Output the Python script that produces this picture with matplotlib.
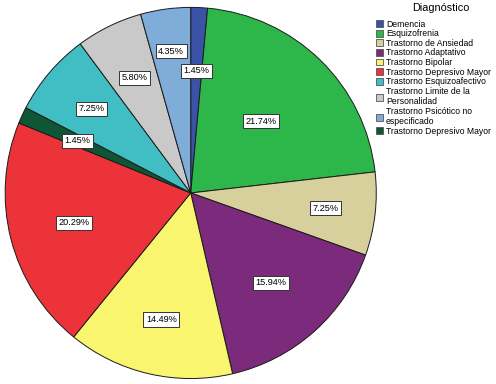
import numpy as np
import matplotlib
matplotlib.use("Agg")
from matplotlib import pyplot as plt
from matplotlib.patches import Patch

plt.rcParams['font.family'] = ['Liberation Sans', 'DejaVu Sans']

# slices, clockwise from 12 o'clock (as drawn)
slice_labels = [
    "Demencia", "Esquizofrenia", "Trastorno de Ansiedad", "Trastorno Adaptativo",
    "Trastorno Bipolar", "Trastorno Depresivo Mayor", "Trastorno Depresivo Mayor (2)",
    "Trastorno Esquizoafectivo", "Trastorno Limite de la\nPersonalidad",
    "Trastorno Psicótico no\nespecificado",
]
slice_pcts = [1.45, 21.74, 7.25, 15.94, 14.49, 20.29, 1.45, 7.25, 5.80, 4.35]
slice_colors = ["#3b53a6", "#2db64a", "#d7cf9c", "#7b2a7c", "#faf56f",
                "#ec333a", "#0f5637", "#40bec4", "#c9c9c9", "#80acd9"]

# legend order (as listed by the chart)
legend_labels = [
    "Demencia", "Esquizofrenia", "Trastorno de Ansiedad", "Trastorno Adaptativo",
    "Trastorno Bipolar", "Trastorno Depresivo Mayor", "Trastorno Esquizoafectivo",
    "Trastorno Limite de la\nPersonalidad", "Trastorno Psicótico no\nespecificado",
    "Trastorno Depresivo Mayor",
]
legend_colors = ["#3b53a6", "#2db64a", "#d7cf9c", "#7b2a7c", "#faf56f",
                 "#ec333a", "#40bec4", "#c9c9c9", "#80acd9", "#0f5637"]

# distance of each percent label from the centre (fraction of radius)
label_r = [0.66, 0.54, 0.73, 0.65, 0.70, 0.65, 0.67, 0.70, 0.69, 0.77]

fig = plt.figure(figsize=(4.96, 3.84), dpi=100)
ax = fig.add_axes([0.0085, 0.01, 0.752, 0.975])

wedges, texts = ax.pie(
    slice_pcts, colors=slice_colors, startangle=90, counterclock=False,
    wedgeprops=dict(edgecolor="#1a1a1a", linewidth=0.7),
)
for w, pct, r in zip(wedges, slice_pcts, label_r):
    ang = np.deg2rad((w.theta1 + w.theta2) / 2)
    ax.text(r * np.cos(ang), r * np.sin(ang), f"{pct:.2f}%",
            ha="center", va="center", fontsize=6.6,
            bbox=dict(boxstyle="square,pad=0.28", fc="white", ec="#333333", lw=0.7))
ax.set_xlim(-1.005, 1.005)
ax.set_ylim(-1.005, 1.005)
ax.set_aspect("equal")
ax.axis("off")

fig.text(441 / 496, 1 - 8 / 384, "Diagnóstico", ha="center", va="center", fontsize=7.8)

handles = [Patch(facecolor=c, edgecolor="#555555", linewidth=0.6) for c in legend_colors]
leg = fig.legend(handles, legend_labels,
                 loc="upper left", bbox_to_anchor=(0.752, 1 - 17 / 384),
                 frameon=False, fontsize=6.25,
                 handlelength=0.85, handleheight=0.85, handletextpad=0.35,
                 labelspacing=0.07, borderaxespad=0.0, borderpad=0.3)

plt.savefig("out.png", dpi=100)
